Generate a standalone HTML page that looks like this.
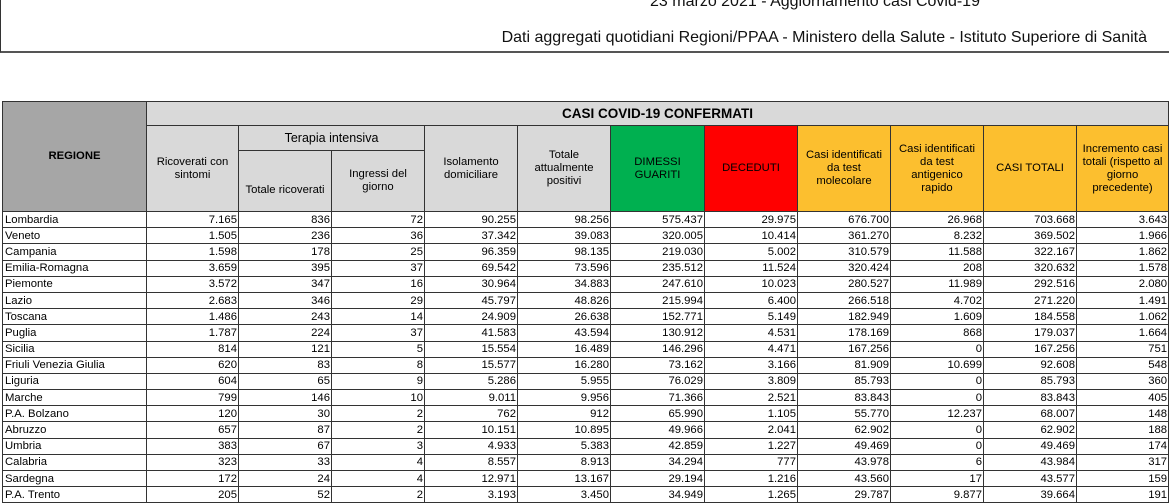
<!DOCTYPE html>
<html><head><meta charset="utf-8"><style>
body{margin:0;width:1169px;height:501px;overflow:hidden;background:#fff;font-family:"Liberation Sans",Arial,sans-serif;position:relative}
.box{position:absolute;left:0;top:-5px;width:1175px;height:56px;border-left:1px solid #333;border-bottom:2px solid #555}
.t1{position:absolute;left:600px;width:430px;top:-7px;text-align:center;font-size:16px;color:#111}
.t2{position:absolute;right:22px;top:29px;font-size:16px;color:#111}
table{position:absolute;left:2px;top:101px;border-collapse:collapse;table-layout:fixed;width:1166px;font-size:11.3px;color:#000}
td{border:1px solid #333;padding:0 2px;overflow:hidden;white-space:nowrap;line-height:14px}
tr.d td{height:15.2px;text-align:right;padding:0 1px 0 0}
tr.d td:first-child{text-align:left;padding-left:2px}
.h td{background:#d9d9d9;text-align:center;white-space:normal;line-height:13px}
.h td.reg{background:#a6a6a6;font-weight:bold}
.g{background:#00b050!important}.r{background:#ff0000!important}.o{background:#fcbf2f!important}
</style></head><body>
<div class="box"></div>
<div class="t1">23 marzo 2021 - Aggiornamento casi Covid-19</div>
<div class="t2">Dati aggregati quotidiani Regioni/PPAA - Ministero della Salute - Istituto Superiore di Sanità</div>
<table>
<colgroup><col style="width:144px"><col style="width:92px"><col style="width:93px"><col style="width:93px"><col style="width:93px"><col style="width:93px"><col style="width:94px"><col style="width:93px"><col style="width:93px"><col style="width:93px"><col style="width:93px"><col style="width:92px"></colgroup>
<tr class="h" style="height:24px"><td class="reg" rowspan="3">REGIONE</td><td colspan="11" style="font-weight:bold;font-size:13.5px">CASI COVID-19 CONFERMATI</td></tr>
<tr class="h" style="height:25px"><td rowspan="2">Ricoverati con sintomi</td><td colspan="2" style="font-size:12.5px">Terapia intensiva</td><td rowspan="2">Isolamento domiciliare</td><td rowspan="2">Totale attualmente positivi</td><td rowspan="2" class="g">DIMESSI GUARITI</td><td rowspan="2" class="r">DECEDUTI</td><td rowspan="2" class="o">Casi identificati da test molecolare</td><td rowspan="2" class="o">Casi identificati<br>da test<br>antigenico<br>rapido</td><td rowspan="2" class="o">CASI TOTALI</td><td rowspan="2" class="o">Incremento casi totali (rispetto al giorno precedente)</td></tr>
<tr class="h" style="height:61px"><td style="padding-top:18px">Totale ricoverati</td><td>Ingressi del giorno</td></tr>
<tr class="d"><td>Lombardia</td><td>7.165</td><td>836</td><td>72</td><td>90.255</td><td>98.256</td><td>575.437</td><td>29.975</td><td>676.700</td><td>26.968</td><td>703.668</td><td>3.643</td></tr>
<tr class="d"><td>Veneto</td><td>1.505</td><td>236</td><td>36</td><td>37.342</td><td>39.083</td><td>320.005</td><td>10.414</td><td>361.270</td><td>8.232</td><td>369.502</td><td>1.966</td></tr>
<tr class="d"><td>Campania</td><td>1.598</td><td>178</td><td>25</td><td>96.359</td><td>98.135</td><td>219.030</td><td>5.002</td><td>310.579</td><td>11.588</td><td>322.167</td><td>1.862</td></tr>
<tr class="d"><td>Emilia-Romagna</td><td>3.659</td><td>395</td><td>37</td><td>69.542</td><td>73.596</td><td>235.512</td><td>11.524</td><td>320.424</td><td>208</td><td>320.632</td><td>1.578</td></tr>
<tr class="d"><td>Piemonte</td><td>3.572</td><td>347</td><td>16</td><td>30.964</td><td>34.883</td><td>247.610</td><td>10.023</td><td>280.527</td><td>11.989</td><td>292.516</td><td>2.080</td></tr>
<tr class="d"><td>Lazio</td><td>2.683</td><td>346</td><td>29</td><td>45.797</td><td>48.826</td><td>215.994</td><td>6.400</td><td>266.518</td><td>4.702</td><td>271.220</td><td>1.491</td></tr>
<tr class="d"><td>Toscana</td><td>1.486</td><td>243</td><td>14</td><td>24.909</td><td>26.638</td><td>152.771</td><td>5.149</td><td>182.949</td><td>1.609</td><td>184.558</td><td>1.062</td></tr>
<tr class="d"><td>Puglia</td><td>1.787</td><td>224</td><td>37</td><td>41.583</td><td>43.594</td><td>130.912</td><td>4.531</td><td>178.169</td><td>868</td><td>179.037</td><td>1.664</td></tr>
<tr class="d"><td>Sicilia</td><td>814</td><td>121</td><td>5</td><td>15.554</td><td>16.489</td><td>146.296</td><td>4.471</td><td>167.256</td><td>0</td><td>167.256</td><td>751</td></tr>
<tr class="d"><td>Friuli Venezia Giulia</td><td>620</td><td>83</td><td>8</td><td>15.577</td><td>16.280</td><td>73.162</td><td>3.166</td><td>81.909</td><td>10.699</td><td>92.608</td><td>548</td></tr>
<tr class="d"><td>Liguria</td><td>604</td><td>65</td><td>9</td><td>5.286</td><td>5.955</td><td>76.029</td><td>3.809</td><td>85.793</td><td>0</td><td>85.793</td><td>360</td></tr>
<tr class="d"><td>Marche</td><td>799</td><td>146</td><td>10</td><td>9.011</td><td>9.956</td><td>71.366</td><td>2.521</td><td>83.843</td><td>0</td><td>83.843</td><td>405</td></tr>
<tr class="d"><td>P.A. Bolzano</td><td>120</td><td>30</td><td>2</td><td>762</td><td>912</td><td>65.990</td><td>1.105</td><td>55.770</td><td>12.237</td><td>68.007</td><td>148</td></tr>
<tr class="d"><td>Abruzzo</td><td>657</td><td>87</td><td>2</td><td>10.151</td><td>10.895</td><td>49.966</td><td>2.041</td><td>62.902</td><td>0</td><td>62.902</td><td>188</td></tr>
<tr class="d"><td>Umbria</td><td>383</td><td>67</td><td>3</td><td>4.933</td><td>5.383</td><td>42.859</td><td>1.227</td><td>49.469</td><td>0</td><td>49.469</td><td>174</td></tr>
<tr class="d"><td>Calabria</td><td>323</td><td>33</td><td>4</td><td>8.557</td><td>8.913</td><td>34.294</td><td>777</td><td>43.978</td><td>6</td><td>43.984</td><td>317</td></tr>
<tr class="d"><td>Sardegna</td><td>172</td><td>24</td><td>4</td><td>12.971</td><td>13.167</td><td>29.194</td><td>1.216</td><td>43.560</td><td>17</td><td>43.577</td><td>159</td></tr>
<tr class="d"><td>P.A. Trento</td><td>205</td><td>52</td><td>2</td><td>3.193</td><td>3.450</td><td>34.949</td><td>1.265</td><td>29.787</td><td>9.877</td><td>39.664</td><td>191</td></tr>
</table>
</body></html>
